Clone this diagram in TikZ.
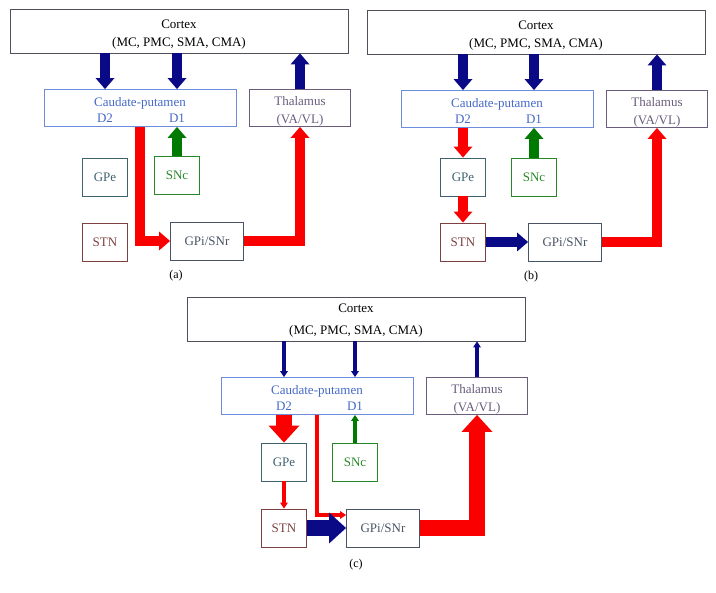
\documentclass[tikz,border=0pt]{standalone}
\usepackage{fontspec}
\setmainfont{Liberation Serif}
\usetikzlibrary{arrows.meta}

\definecolor{cortexgray}{RGB}{80,80,90}
\definecolor{cpline}{RGB}{110,140,220}
\definecolor{cptext}{RGB}{70,105,200}
\definecolor{thalcol}{RGB}{105,92,125}
\definecolor{gpecol}{RGB}{62,98,112}
\definecolor{snccol}{RGB}{40,135,40}
\definecolor{stncol}{RGB}{125,65,65}
\definecolor{gpicol}{RGB}{72,84,100}
\definecolor{tractblue}{RGB}{10,10,135}
\definecolor{tractred}{RGB}{250,0,0}
\definecolor{tractgreen}{RGB}{0,122,0}

\begin{document}
\begin{tikzpicture}[x=1pt, y=-1pt,
    box/.style={draw=#1, text=#1, line width=0.9pt, inner sep=0pt, align=center,
        font=\fontsize{13}{18}\selectfont},
    cortex box/.style={box=cortexgray, text=black, text height=34pt, minimum width=338pt, minimum height=44pt},
    striatum box/.style={box=cpline, minimum width=192pt, minimum height=37pt},
    thalamus box/.style={box=thalcol, text height=33pt, minimum width=101pt, minimum height=37pt},
    nucleus box/.style={box=#1, minimum width=45pt, minimum height=38pt},
    output box/.style={box=gpicol, minimum width=73pt, minimum height=38pt},
    cp text/.style={text=cptext, inner sep=0pt, font=\fontsize{13}{18}\selectfont},
    tag/.style={inner sep=0pt, font=\fontsize{12}{14}\selectfont},
    tract/.style={draw=#1, line width=10pt, -{Triangle[width=19pt, length=11pt, line width=0pt]}},
    weak tract/.style={draw=#1, line width=3.5pt, -{Triangle[width=8pt, length=6pt, line width=0pt]}},
    heavy tract/.style={draw=#1, line width=16pt, -{Triangle[width=31pt, length=17pt, line width=0pt]}}
]
\useasboundingbox (0,0) rectangle (716,593);

% Panel (a): normal
\begin{scope}[shift={(0,0)}]
    % Boxes
    \node[cortex box] (ctxA) at (179,31) {Cortex\\(MC, PMC, SMA, CMA)};
    \node[striatum box] (cpA) at (140,108) {};
    \node[cp text] (cpA-name) at (140,103) {Caudate-putamen};
    \node[cp text] (d2A) at (105,118) {D2};
    \node[cp text] (d1A) at (177,118) {D1};
    \node[thalamus box] (thA) at (300,108) {Thalamus\\(VA/VL)};
    \node[nucleus box=gpecol] (gpeA) at (105,177) {GPe};
    \node[nucleus box=snccol] (sncA) at (177,175) {SNc};
    \node[nucleus box=stncol] (stnA) at (105,242) {STN};
    \node[output box] (gpiA) at (207,241) {GPi/SNr};
    \node[tag] (tagA) at (176,276) {(a)};

    % Pathways
    \draw[tract=tractblue] (ctxA.south -| d2A) -- (cpA.north -| d2A);
    \draw[tract=tractblue] (ctxA.south -| d1A) -- (cpA.north -| d1A);
    \draw[tract=tractblue] (thA.north) -- (ctxA.south -| thA);
    \draw[tract=tractgreen] (sncA.north) -- (cpA.south -| sncA);
    \draw[tract=tractred] (cpA.south) |- (gpiA.west);
    \draw[tract=tractred] (gpiA.east) -| (thA.south);
\end{scope}

% Panel (b): indirect pathway
\begin{scope}[shift={(357,1)}]
    % Boxes
    \node[cortex box] (ctxB) at (179,31) {Cortex\\(MC, PMC, SMA, CMA)};
    \node[striatum box] (cpB) at (140,108) {};
    \node[cp text] (cpB-name) at (140,103) {Caudate-putamen};
    \node[cp text] (d2B) at (106,118) {D2};
    \node[cp text] (d1B) at (177,118) {D1};
    \node[thalamus box] (thB) at (300,108) {Thalamus\\(VA/VL)};
    \node[nucleus box=gpecol] (gpeB) at (106,176) {GPe};
    \node[nucleus box=snccol] (sncB) at (177,176) {SNc};
    \node[nucleus box=stncol] (stnB) at (106,241) {STN};
    \node[output box] (gpiB) at (208,241) {GPi/SNr};
    \node[tag] (tagB) at (174,276) {(b)};

    % Pathways
    \draw[tract=tractblue] (ctxB.south -| d2B) -- (cpB.north -| d2B);
    \draw[tract=tractblue] (ctxB.south -| d1B) -- (cpB.north -| d1B);
    \draw[tract=tractblue] (thB.north) -- (ctxB.south -| thB);
    \draw[tract=tractred] (cpB.south -| gpeB) -- (gpeB.north);
    \draw[tract=tractred] (gpeB.south) -- (stnB.north);
    \draw[tract=tractgreen] (sncB.north) -- (cpB.south -| sncB);
    \draw[tract=tractblue] (stnB.east) -- (gpiB.west);
    \draw[tract=tractred] (gpiB.east) -| (thB.south);
\end{scope}

% Panel (c): dopamine loss
\begin{scope}[shift={(177,288)}]
    % Boxes
    \node[cortex box] (ctxC) at (179,31) {Cortex\\[4pt](MC, PMC, SMA, CMA)};
    \node[striatum box] (cpC) at (140,108) {};
    \node[cp text] (cpC-name) at (140,103) {Caudate-putamen};
    \node[cp text] (d2C) at (107,118) {D2};
    \node[cp text] (d1C) at (178,118) {D1};
    \node[thalamus box] (thC) at (300,108) {Thalamus\\(VA/VL)};
    \node[nucleus box=gpecol] (gpeC) at (107,174) {GPe};
    \node[nucleus box=snccol] (sncC) at (178,174) {SNc};
    \node[nucleus box=stncol] (stnC) at (107,240) {STN};
    \node[output box] (gpiC) at (206,240) {GPi/SNr};
    \node[tag] (tagC) at (179,277) {(c)};

    % Pathways
    \draw[weak tract=tractblue] (ctxC.south -| d2C) -- (cpC.north -| d2C);
    \draw[weak tract=tractblue] (ctxC.south -| d1C) -- (cpC.north -| d1C);
    \draw[weak tract=tractblue] (thC.north) -- (ctxC.south -| thC);
    \draw[heavy tract=tractred] (cpC.south -| gpeC) -- (gpeC.north);
    \draw[weak tract=tractred] (gpeC.south) -- (stnC.north);
    \draw[weak tract=tractgreen] (sncC.north) -- (cpC.south -| sncC);
    \draw[weak tract=tractred] (cpC.south) |- ([yshift=13pt]gpiC.west);
    \draw[heavy tract=tractblue] (stnC.east) -- (gpiC.west);
    \draw[heavy tract=tractred] (gpiC.east) -| (thC.south);
\end{scope}

\end{tikzpicture}
\end{document}
